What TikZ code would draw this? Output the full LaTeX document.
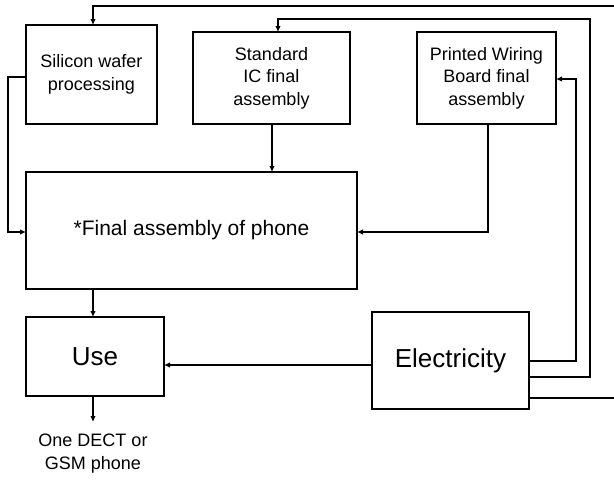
\documentclass[tikz,border=0pt]{standalone}
\usepackage{fontspec}
\setmainfont{Liberation Sans}
\usetikzlibrary{arrows.meta}
\begin{document}
\begin{tikzpicture}[x=1pt,y=-1pt,
  box/.style={draw,line width=1.1pt,inner sep=0pt,align=center,anchor=center},
  arr/.style={line width=1.1pt,-{Latex[length=6pt,width=5.5pt]}},
  ln/.style={line width=1.1pt},
  sm/.style={font=\fontsize{18}{22.5}\selectfont},
  md/.style={font=\fontsize{21}{25}\selectfont},
  lg/.style={font=\fontsize{26}{30}\selectfont}]
\useasboundingbox (0,0) rectangle (614,482);
\clip (0,0) rectangle (614,482);
\node[box,sm,minimum width=131pt,minimum height=99pt] (sil) at (91.5,74.5) {Silicon wafer\\processing};
\node[box,sm,minimum width=157pt,minimum height=92pt] (ic) at (271.5,78) {Standard\\IC final\\assembly};
\node[box,sm,minimum width=139pt,minimum height=92pt] (pwb) at (486.5,78) {Printed Wiring\\Board final\\assembly};
\node[box,md,minimum width=331pt,minimum height=117pt] (fin) at (191.5,230.5) {*Final assembly of phone};
\node[box,lg,minimum width=138pt,minimum height=79pt] (use) at (95,356.5) {Use};
\node[box,lg,minimum width=157pt,minimum height=97pt] (elec) at (450.5,360.5) {Electricity};
\node[sm,align=center,anchor=north,inner sep=0pt] (out) at (93,434) {One DECT or\\GSM phone};
% coordinates
\coordinate (e1) at (529,398);
\coordinate (e2) at (529,377);
\coordinate (e3) at (529,361);
\coordinate (silTop) at (93,25);
\coordinate (icTop) at (278,32);
\coordinate (pwbR) at (556,79);
\coordinate (silL) at (26,77);
\coordinate (finL) at (26,232);
\coordinate (finR) at (357,232);
\coordinate (icB) at (272,124);
\coordinate (finT) at (272,172);
\coordinate (pwbB) at (488,124);
\coordinate (finB) at (93,289);
\coordinate (useT) at (93,317);
\coordinate (elecL) at (372,365);
\coordinate (useR) at (164,365);
\coordinate (useB) at (93,396);
\coordinate (outT) at (93,422);
% connectors
\draw[arr] (e1) -- (625,398) |- (93,6) -- (silTop);
\draw[arr] (e2) -| (590,19) -| (icTop);
\draw[arr] (e3) -| (576,79) -- (pwbR);
\draw[arr] (silL) -- (8,77) |- (finL);
\draw[arr] (icB) -- (finT);
\draw[arr] (pwbB) |- (finR);
\draw[arr] (finB) -- (useT);
\draw[arr] (elecL) -- (useR);
\draw[arr] (useB) -- (outT);
\end{tikzpicture}
\end{document}
